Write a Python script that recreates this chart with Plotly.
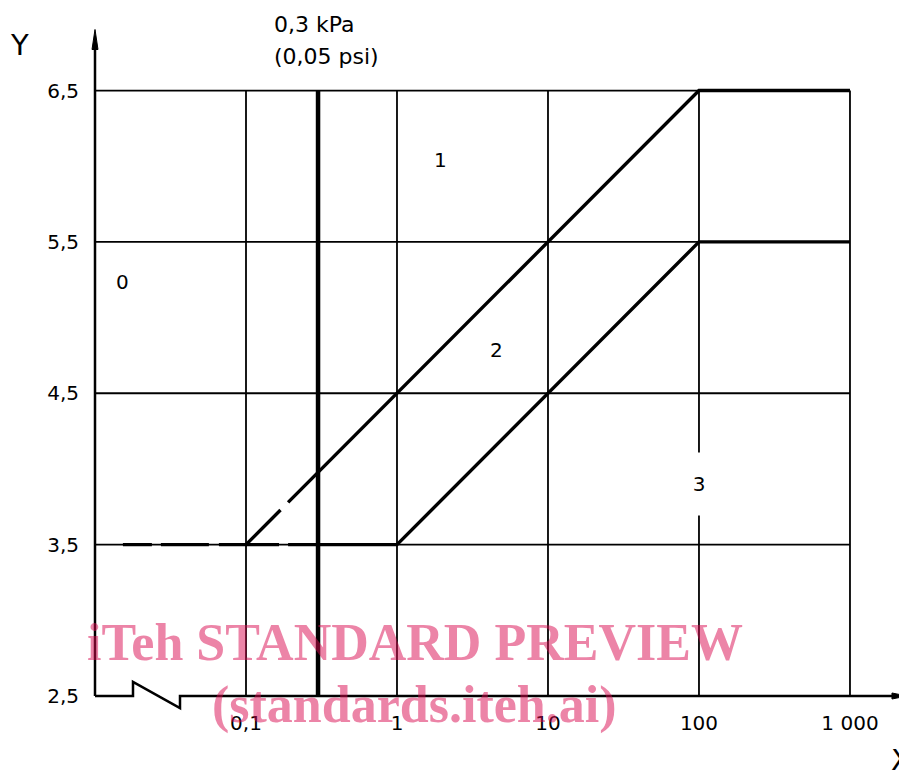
import math
import plotly.graph_objects as go

# ---- data ----
x_ticks = [0.1, 1, 10, 100, 1000]
x_ticktext = ["0,1", "1", "10", "100", "1 000"]
y_ticks = [2.5, 3.5, 4.5, 5.5, 6.5]
y_ticktext = ["2,5", "3,5", "4,5", "5,5", "6,5"]

upper_x = [0.19, 100, 1000]
upper_y = [3.779, 6.5, 6.5]
upper_dash_x = [0.0153, 0.1, 0.19]
upper_dash_y = [3.5, 3.5, 3.779]

lower_x = [0.19, 1, 100, 1000]
lower_y = [3.5, 3.5, 5.5, 5.5]
lower_dash_x = [0.1, 0.19]
lower_dash_y = [3.5, 3.5]

limit_x = [0.3, 0.3]
limit_y = [2.5, 6.5]

region_labels = ["0", "1", "2", "3"]
region_x = [0.0153, 1.95, 4.53, 100]
region_y = [5.235, 6.04, 4.785, 3.9]

X_MIN = 0.01

# ---- layout geometry ----
OFF = 8  # browser body margin
W, H = 907 - OFF, 775 - OFF
DEC = 151.0      # px per decade
UNIT = 151.25    # px per y unit
XR = [-2, 3.02]
YR = [2.5, 6.53]
PW = (XR[1] - XR[0]) * DEC
PH = (YR[1] - YR[0]) * UNIT
L = 95 - OFF
B = 79
R = W - L - PW
T = H - B - PH


def px(X):  # page pixel -> paper
    return (X - 95) / PW


def py(Y):
    return (696 - Y) / PH


FONT = "DejaVu Sans"
blk = "black"
fig = go.Figure()

# grid lines (vertical at x ticks, horizontal at y ticks above the axis)
gx, gy = [], []
for xv in x_ticks:
    gx += [xv, xv, None]
    gy += [y_ticks[0], y_ticks[-1], None]
for yv in y_ticks[1:]:
    gx += [X_MIN, x_ticks[-1], None]
    gy += [yv, yv, None]
fig.add_trace(go.Scatter(x=gx, y=gy, mode="lines",
                         line=dict(color=blk, width=1.8)))

MW = 3.4
fig.add_trace(go.Scatter(x=upper_x, y=upper_y, mode="lines",
                         line=dict(color=blk, width=MW)))
fig.add_trace(go.Scatter(x=lower_x, y=lower_y, mode="lines",
                         line=dict(color=blk, width=MW)))
fig.add_trace(go.Scatter(x=upper_dash_x, y=upper_dash_y, mode="lines",
                         line=dict(color=blk, width=MW,
                                   dash="29px,9px,48px,10px,76px,12px")))
fig.add_trace(go.Scatter(x=lower_dash_x, y=lower_dash_y, mode="lines",
                         line=dict(color=blk, width=MW, dash="33px,9px")))
fig.add_trace(go.Scatter(x=limit_x, y=limit_y, mode="lines",
                         line=dict(color=blk, width=4.5)))

shapes = []
shapes.append(dict(type="line", xref="paper", yref="paper", x0=0, x1=0,
                   y0=0, y1=py(45), line=dict(color=blk, width=2.5)))
shapes.append(dict(type="path", xref="paper", yref="paper",
                   path=f"M {px(92)} {py(50)} L {px(95)} {py(30)} L {px(98)} {py(50)} Z",
                   fillcolor=blk, line=dict(color=blk, width=1)))
pts = [(95, 696), (133, 696), (133, 682), (180, 708), (180, 696), (895, 696)]
path = "M " + " L ".join(f"{px(a)} {py(b)}" for a, b in pts)
shapes.append(dict(type="path", xref="paper", yref="paper", path=path,
                   line=dict(color=blk, width=2.5)))
shapes.append(dict(type="path", xref="paper", yref="paper",
                   path=f"M {px(892)} {py(693)} L {px(907)} {py(696)} L {px(892)} {py(699)} Z",
                   fillcolor=blk, line=dict(color=blk, width=1)))

C = dict(xanchor="center", yanchor="middle", showarrow=False)
annotations = []
for t, xv, yv in zip(region_labels, region_x, region_y):
    a = dict(x=math.log10(xv), y=yv, xref="x", yref="y", text=t,
             font=dict(family=FONT, size=20, color=blk), **C)
    if t == "3":
        a.update(bgcolor="white", height=62, width=22, borderpad=0)
    annotations.append(a)

annotations += [
    dict(x=px(272), y=py(25), xref="paper", yref="paper", text="0,3 kPa",
         xanchor="left", yanchor="middle", showarrow=False,
         font=dict(family=FONT, size=22, color=blk)),
    dict(x=px(272), y=py(57), xref="paper", yref="paper", text="(0,05 psi)",
         xanchor="left", yanchor="middle", showarrow=False,
         font=dict(family=FONT, size=22, color=blk)),
    dict(x=px(19), y=py(45), xref="paper", yref="paper", text="Y",
         font=dict(family=FONT, size=29, color=blk), **C),
    dict(x=px(901), y=py(760), xref="paper", yref="paper", text="X",
         font=dict(family=FONT, size=29, color=blk), **C),
]

wm = "rgba(217,10,80,0.5)"
annotations += [
    dict(x=px(415), y=py(643), xref="paper", yref="paper", text="<b>iTeh STANDARD PREVIEW</b>",
         font=dict(family="Liberation Serif", size=52, color=wm), **C),
    dict(x=px(414), y=py(705), xref="paper", yref="paper", text="<b>(standards.iteh.ai)</b>",
         font=dict(family="Liberation Serif", size=52, color=wm), **C),
    dict(x=px(413), y=py(784), xref="paper", yref="paper", text="ISO 15156-2:2003",
         font=dict(family="Liberation Serif", size=27, color=wm), **C),
]

fig.update_layout(
    width=W, height=H,
    margin=dict(l=L, r=R, t=T, b=B),
    plot_bgcolor="white", paper_bgcolor="white",
    showlegend=False,
    shapes=shapes, annotations=annotations,
    xaxis=dict(type="log", range=XR, tickvals=x_ticks, ticktext=x_ticktext,
               showgrid=False, showline=False,
               zeroline=False, ticks="", ticklabelstandoff=13,
               tickfont=dict(family=FONT, size=20, color=blk)),
    yaxis=dict(range=YR, tickvals=y_ticks, ticktext=y_ticktext,
               showgrid=False, showline=False, zeroline=False, ticks="",
               ticklabelstandoff=15,
               tickfont=dict(family=FONT, size=20, color=blk)),
)

fig.write_html("out.html")
